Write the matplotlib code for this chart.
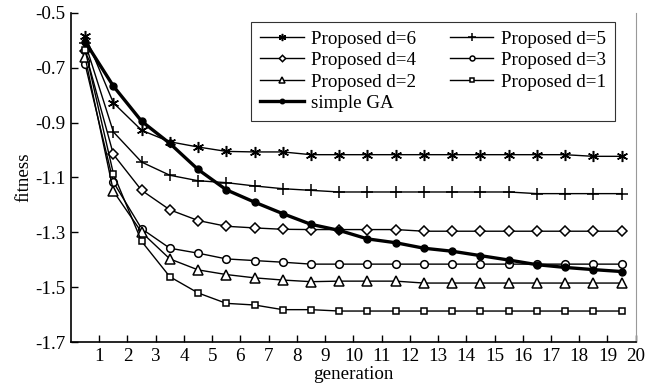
import numpy as np
import matplotlib.pyplot as plt

plt.rcParams['font.family'] = ['Liberation Serif', 'DejaVu Serif']

generation = np.arange(0.5, 20, 1.0)

d6 = [-0.583, -0.828, -0.928, -0.970, -0.989, -1.005, -1.007, -1.007,
      -1.017, -1.017, -1.017, -1.017, -1.017, -1.017, -1.017, -1.017,
      -1.017, -1.017, -1.023, -1.023]
d5 = [-0.610, -0.934, -1.044, -1.092, -1.112, -1.119, -1.131, -1.141,
      -1.147, -1.153, -1.153, -1.153, -1.153, -1.153, -1.153, -1.153,
      -1.159, -1.159, -1.159, -1.159]
d4 = [-0.640, -1.016, -1.147, -1.218, -1.257, -1.278, -1.284, -1.289,
      -1.290, -1.290, -1.290, -1.290, -1.296, -1.296, -1.296, -1.296,
      -1.296, -1.296, -1.296, -1.296]
d3 = [-0.688, -1.117, -1.287, -1.358, -1.376, -1.397, -1.403, -1.409,
      -1.416, -1.416, -1.416, -1.416, -1.416, -1.416, -1.416, -1.416,
      -1.416, -1.416, -1.416, -1.416]
d2 = [-0.662, -1.150, -1.300, -1.397, -1.437, -1.454, -1.466, -1.474,
      -1.480, -1.478, -1.478, -1.478, -1.485, -1.485, -1.485, -1.485,
      -1.485, -1.485, -1.485, -1.485]
d1 = [-0.635, -1.086, -1.333, -1.462, -1.521, -1.559, -1.565, -1.582,
      -1.582, -1.587, -1.587, -1.587, -1.587, -1.587, -1.587, -1.587,
      -1.587, -1.587, -1.587, -1.587]
simple_ga = [-0.605, -0.767, -0.895, -0.976, -1.071, -1.145, -1.190, -1.232,
             -1.271, -1.293, -1.324, -1.338, -1.358, -1.369, -1.385, -1.401,
             -1.418, -1.428, -1.436, -1.443]

fs = 13.7

fig = plt.figure(figsize=(6.48, 3.90), dpi=100)
ax = fig.add_axes([0.1096, 0.123, 0.8714, 0.844])

common = dict(color='black', lw=1.0, mfc='white', mec='black', mew=1.1)
h6, = ax.plot(generation, d6, marker=(6, 2, 0), ms=8, label='Proposed d=6', **common)
h5, = ax.plot(generation, d5, marker='+', ms=9, label='Proposed d=5', **common)
h4, = ax.plot(generation, d4, marker='D', ms=5, label='Proposed d=4', **common)
h3, = ax.plot(generation, d3, marker='o', ms=5.5, label='Proposed d=3', **common)
h2, = ax.plot(generation, d2, marker='^', ms=6.5, label='Proposed d=2', **common)
h1, = ax.plot(generation, d1, marker='s', ms=5, label='Proposed d=1', **common)
hg, = ax.plot(generation, simple_ga, color='black', lw=2.4, marker='o', ms=5,
              mfc='black', mec='black', label='simple GA')

ax.set_xlim(0, 20)
ax.set_ylim(-1.7, -0.5)
ax.set_xticks(range(1, 21))
ax.set_yticks(np.arange(-1.7, -0.49, 0.2))
ax.set_yticklabels(['-1.7', '-1.5', '-1.3', '-1.1', '-0.9', '-0.7', '-0.5'])
ax.tick_params(direction='in', length=5, width=1, labelsize=fs, pad=4)
ax.spines['top'].set_visible(False)
ax.spines['right'].set_color('#999999')
ax.spines['left'].set_linewidth(1.2)
ax.spines['bottom'].set_linewidth(1.2)

ax.set_xlabel('generation', fontsize=fs, labelpad=1)
ax.set_ylabel('fitness', fontsize=fs, labelpad=2)

leg = ax.legend([h6, h4, h2, hg, h5, h3, h1],
                ['Proposed d=6', 'Proposed d=4', 'Proposed d=2', 'simple GA',
                 'Proposed d=5', 'Proposed d=3', 'Proposed d=1'],
                ncol=2, loc='upper right', bbox_to_anchor=(0.963, 0.973),
                borderaxespad=0.0,
                fontsize=fs, frameon=True, fancybox=False, edgecolor='black',
                markerscale=0.65, handlelength=2.3, handletextpad=0.4,
                columnspacing=1.75, labelspacing=0.22, borderpad=0.45)
leg.get_frame().set_linewidth(0.8)

fig.savefig('out.png', dpi=100)
